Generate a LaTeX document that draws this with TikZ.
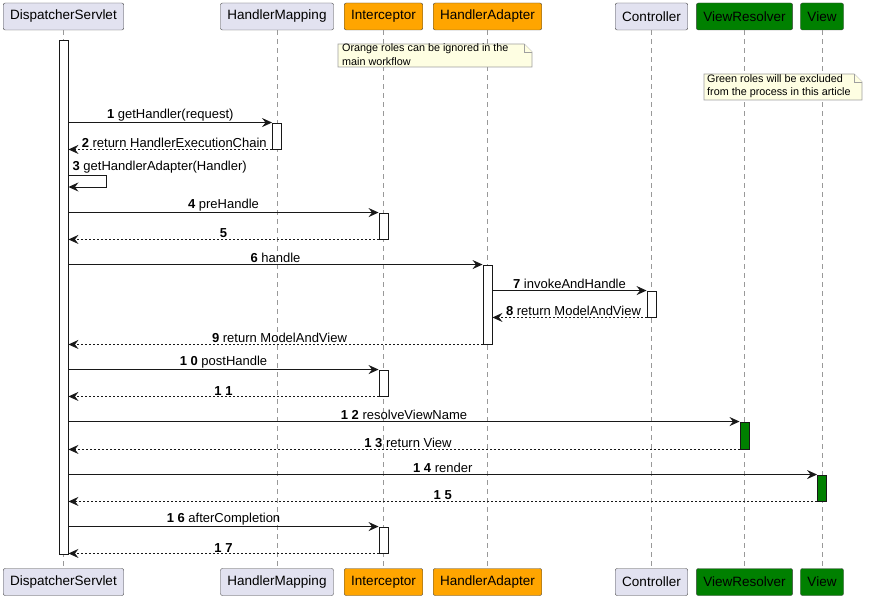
\documentclass[tikz,border=0pt]{standalone}
\usepackage{fontspec}
\setmainfont{Liberation Sans}
\usetikzlibrary{arrows.meta,calc}
\definecolor{partfill}{RGB}{226,226,240}
\definecolor{roleorange}{RGB}{255,165,0}
\definecolor{rolegreen}{RGB}{0,128,0}
\definecolor{notefill}{RGB}{254,254,226}
\definecolor{umlline}{RGB}{24,24,24}

\tikzset{
  part/.style={draw=umlline!80,fill=partfill,rounded corners=2pt,
    minimum height=27pt,inner xsep=7pt,inner ysep=0pt,
    font=\fontsize{13.5}{15}\selectfont},
  partor/.style={part,fill=roleorange},
  partgr/.style={part,fill=rolegreen},
  life/.style={draw=gray!80,dash pattern=on 5pt off 4pt,line width=0.8pt},
  act/.style={draw=umlline,fill=white,minimum width=9pt,inner sep=0pt,line width=0.9pt},
  actgr/.style={act,fill=rolegreen},
  msg/.style={draw=umlline,line width=0.9pt,-{Stealth[length=10pt,width=9pt,inset=3.5pt]}},
  ret/.style={msg,dash pattern=on 2pt off 2pt},
  lbl/.style={font=\fontsize{13}{15}\selectfont,inner sep=1pt,anchor=south},
  rlbl/.style={lbl,xshift=4pt},
  notebox/.style={draw=gray!75,fill=notefill,line width=0.7pt},
  notetxt/.style={font=\fontsize{10.8}{13.5}\selectfont,align=left,anchor=north west,inner sep=0pt}
}

\begin{document}
\begin{tikzpicture}[x=1pt,y=-1pt]
    \useasboundingbox (0,0) rectangle (884,604);

    % participants, top row
    \node[part]   (dsT) at (63.5,16.5)  {DispatcherServlet};
    \node[part]   (hmT) at (277,16.5)   {HandlerMapping};
    \node[partor] (icT) at (383.5,16.5) {Interceptor};
    \node[partor] (haT) at (487.5,16.5) {HandlerAdapter};
    \node[part]   (ctT) at (651.5,16.5) {Controller};
    \node[partgr] (vrT) at (744.5,16.5) {ViewResolver};
    \node[partgr] (vwT) at (822,16.5)   {View};

    % participants, bottom row
    \node[part]   (dsB) at (63.5,582)  {DispatcherServlet};
    \node[part]   (hmB) at (277,582)   {HandlerMapping};
    \node[partor] (icB) at (383.5,582) {Interceptor};
    \node[partor] (haB) at (487.5,582) {HandlerAdapter};
    \node[part]   (ctB) at (651.5,582) {Controller};
    \node[partgr] (vrB) at (744.5,582) {ViewResolver};
    \node[partgr] (vwB) at (822,582)   {View};

    % lifelines
    \foreach \p in {ds,hm,ic,ha,ct,vr,vw}
      \draw[life] (\p T.south) -- (\p B.north);

    % notes
    \draw[notebox] (338,44) -- (524,44) -- (532,52) -- (532,67) -- (338,67) -- cycle;
    \draw[notebox] (524,44) -- (524,52) -- (532,52);
    \node[notetxt] (noteA) at (342,43.5)
      {Orange roles can be ignored in the\\main workflow};
    \draw[notebox] (704,74) -- (854,74) -- (862,82) -- (862,100) -- (704,100) -- cycle;
    \draw[notebox] (854,74) -- (854,82) -- (862,82);
    \node[notetxt] (noteB) at (707,74)
      {Green roles will be excluded\\from the process in this article};

    % activation bars
    \node[act,minimum height=514pt]  (ds)  at (63.5,297)  {};
    \node[act,minimum height=26pt]   (hm1) at (277,136)   {};
    \node[act,minimum height=26pt]   (ic1) at (383.5,226) {};
    \node[act,minimum height=79pt]   (ha1) at (487.5,304.5) {};
    \node[act,minimum height=26pt]   (ct1) at (651.5,304) {};
    \node[act,minimum height=26pt]   (ic2) at (383.5,383) {};
    \node[actgr,minimum height=27pt] (vr1) at (744.5,435.5) {};
    \node[actgr,minimum height=26pt] (vw1) at (822,488)   {};
    \node[act,minimum height=26pt]   (ic3) at (383.5,540) {};

    % messages
    \draw[msg] (ds.east |- hm1.north) -- (hm1.north west)
      node[lbl,midway] (m1) {\textbf{1} getHandler(request)};
    \draw[ret] (hm1.south west) -- (ds.east |- hm1.south)
      node[rlbl,midway] (m2) {\textbf{2} return HandlerExecutionChain};
    \coordinate (s3) at (ds.east |- 0,175);
    \draw[msg] (s3) -- ++(38,0) -- ++(0,12) -- ++(-38,0);
    \node[lbl,anchor=south west] (m3) at ($(s3)+(3,-1)$)
      {\textbf{3} getHandlerAdapter(Handler)};
    \draw[msg] (ds.east |- ic1.north) -- (ic1.north west)
      node[lbl,midway] (m4) {\textbf{4} preHandle};
    \draw[ret] (ic1.south west) -- (ds.east |- ic1.south)
      node[lbl,midway] (m5) {\textbf{5}};
    \draw[msg] (ds.east |- ha1.north) -- (ha1.north west)
      node[lbl,midway] (m6) {\textbf{6} handle};
    \draw[msg] (ha1.east |- ct1.north) -- (ct1.north west)
      node[lbl,midway] (m7) {\textbf{7} invokeAndHandle};
    \draw[ret] (ct1.south west) -- (ha1.east |- ct1.south)
      node[rlbl,midway] (m8) {\textbf{8} return ModelAndView};
    \draw[ret] (ha1.south west) -- (ds.east |- ha1.south)
      node[rlbl,midway] (m9) {\textbf{9} return ModelAndView};
    \draw[msg] (ds.east |- ic2.north) -- (ic2.north west)
      node[lbl,midway] (m10) {\textbf{1 0} postHandle};
    \draw[ret] (ic2.south west) -- (ds.east |- ic2.south)
      node[lbl,midway] (m11) {\textbf{1 1}};
    \draw[msg] (ds.east |- vr1.north) -- (vr1.north west)
      node[lbl,midway] (m12) {\textbf{1 2} resolveViewName};
    \draw[ret] (vr1.south west) -- (ds.east |- vr1.south)
      node[rlbl,midway] (m13) {\textbf{1 3} return View};
    \draw[msg] (ds.east |- vw1.north) -- (vw1.north west)
      node[lbl,midway] (m14) {\textbf{1 4} render};
    \draw[ret] (vw1.south west) -- (ds.east |- vw1.south)
      node[lbl,midway] (m15) {\textbf{1 5}};
    \draw[msg] (ds.east |- ic3.north) -- (ic3.north west)
      node[lbl,midway] (m16) {\textbf{1 6} afterCompletion};
    \draw[ret] (ic3.south west) -- (ds.east |- ic3.south)
      node[lbl,midway] (m17) {\textbf{1 7}};
\end{tikzpicture}
\end{document}
